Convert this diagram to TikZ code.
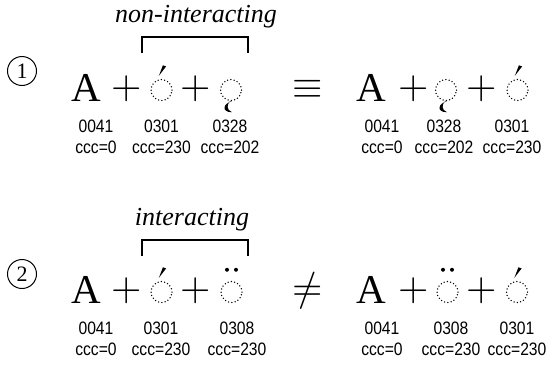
\documentclass[tikz,border=0pt]{standalone}
\usepackage{fontspec}
\usepackage{unicode-math}
\newfontfamily\codefont[FakeStretch=0.87]{Liberation Sans}
\newfontfamily\glyphfont{Liberation Serif}

% combining marks on a dotted base
\newcommand{\acutemark}[1]{\fill ([shift={(-2.6,-3)}]#1.north) -- ([shift={(1.4,-13.5)}]#1.north) -- ([shift={(4.6,-12.3)}]#1.north) -- cycle;}
\newcommand{\ogonekmark}[1]{\fill ([shift={(1,0)}]#1.south)
  .. controls ([shift={(-8,2)}]#1.south) and ([shift={(-10,11)}]#1.south) .. ([shift={(1,11)}]#1.south)
  .. controls ([shift={(-5,8.5)}]#1.south) and ([shift={(-4,3)}]#1.south) .. ([shift={(-1,0)}]#1.south) -- cycle;}
\newcommand{\diaeresismark}[1]{\fill ([shift={(-4.5,-11)}]#1.north) circle (2);
  \fill ([shift={(4.5,-11)}]#1.north) circle (2);}

\begin{document}
\begin{tikzpicture}[x=1pt,y=-1pt,
  letter/.style={anchor=base,inner sep=0pt,font=\glyphfont\fontsize{41}{41}\selectfont},
  big/.style={inner sep=0pt,font=\fontsize{39}{39}\selectfont},
  rel/.style={inner sep=0pt,font=\fontsize{39}{39}\selectfont},
  ring/.style={circle,draw,minimum size=21pt,inner sep=0pt,line width=1.5pt,dash pattern=on 0pt off 3.3pt,line cap=round},
  num/.style={circle,draw,line width=1pt,minimum size=29pt,inner sep=0pt,font=\glyphfont\fontsize{22}{22}\selectfont},
  code/.style={anchor=north,inner sep=0pt,align=center,font=\codefont\fontsize{18}{21}\selectfont},
  note/.style={anchor=base,inner sep=0pt,font=\glyphfont\itshape\fontsize{26}{26}\selectfont},
  bracket/.style={line width=1.3pt}]
\useasboundingbox (0,0) rectangle (550,365);

% Row 1: non-interacting marks commute
\node[num] (n1) at (22,71) {1};
\node[letter] (a11) at (86,101) {A};
\node[big] (p11) at (126.5,89) {$+$};
\node[ring] (r11) at (161.5,90) {};
\node[big] (p12) at (196,89) {$+$};
\node[ring] (r12) at (231,90) {};
\acutemark{r11}
\ogonekmark{r12}

\node[rel] (eq1) at (308,89) {$\equiv$};

\node[letter] (a12) at (371,101) {A};
\node[big] (p13) at (413.5,89) {$+$};
\node[ring] (r13) at (446,90) {};
\node[big] (p14) at (481.5,89) {$+$};
\node[ring] (r14) at (517.5,90) {};
\ogonekmark{r13}
\acutemark{r14}

\coordinate (k1a) at (142,53);
\coordinate (k1b) at (248,53);
\draw[bracket] (k1a) -- ++(0,-16) -| (k1b);
\node[note] (t1) at (196,22) {non-interacting};

\node[code] (c11) at (96,120) {0041\\ccc=0};
\node[code] (c12) at (161.5,120) {0301\\ccc=230};
\node[code] (c13) at (230,120) {0328\\ccc=202};
\node[code] (c14) at (382,120) {0041\\ccc=0};
\node[code] (c15) at (444,120) {0328\\ccc=202};
\node[code] (c16) at (512,120) {0301\\ccc=230};

% Row 2: interacting marks do not
\node[num] (n2) at (22,274) {2};
\node[letter] (a21) at (86,303) {A};
\node[big] (p21) at (126.5,291) {$+$};
\node[ring] (r21) at (161.5,292) {};
\node[big] (p22) at (196,291) {$+$};
\node[ring] (r22) at (231.5,292) {};
\acutemark{r21}
\diaeresismark{r22}

\node[rel] (ne2) at (308,291) {$\neq$};

\node[letter] (a22) at (371,303) {A};
\node[big] (p23) at (413.5,291) {$+$};
\node[ring] (r23) at (447.5,292) {};
\node[big] (p24) at (481.5,291) {$+$};
\node[ring] (r24) at (517,292) {};
\diaeresismark{r23}
\acutemark{r24}

\coordinate (k2a) at (142,256);
\coordinate (k2b) at (248,256);
\draw[bracket] (k2a) -- ++(0,-16) -| (k2b);
\node[note] (t2) at (192,225) {interacting};

\node[code] (c21) at (96,322) {0041\\ccc=0};
\node[code] (c22) at (161,322) {0301\\ccc=230};
\node[code] (c23) at (237,322) {0308\\ccc=230};
\node[code] (c24) at (382,322) {0041\\ccc=0};
\node[code] (c25) at (451,322) {0308\\ccc=230};
\node[code] (c26) at (517,322) {0301\\ccc=230};
\end{tikzpicture}
\end{document}
